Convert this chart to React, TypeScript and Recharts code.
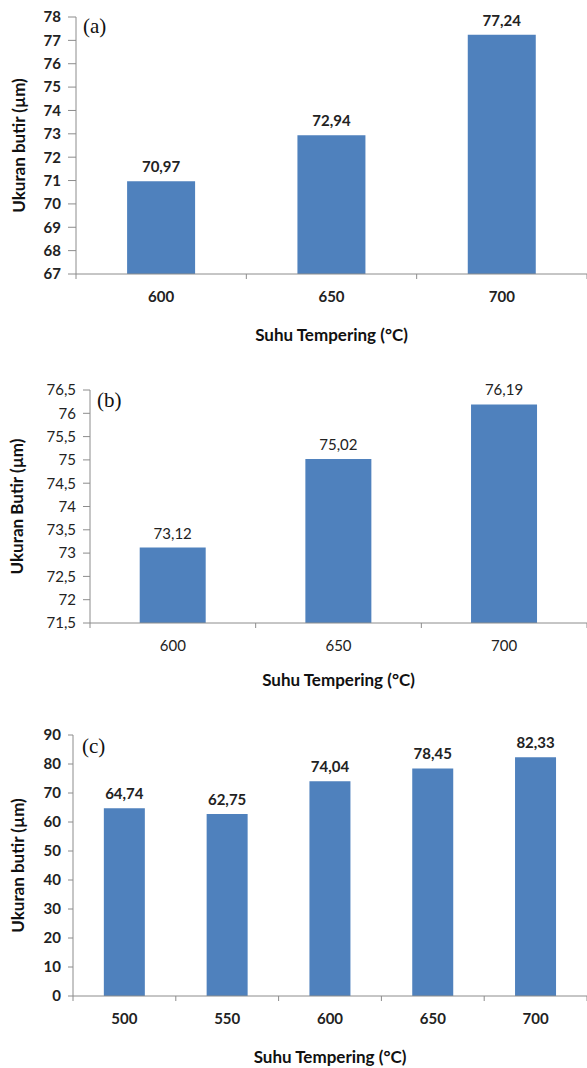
import React from 'react';
import { BarChart, Bar, XAxis, YAxis, LabelList } from 'recharts';

// (a)
const suhuA = ['600', '650', '700'];
const butirA = [70.97, 72.94, 77.24];
const ticksA = [67, 68, 69, 70, 71, 72, 73, 74, 75, 76, 77, 78];

// (b)
const suhuB = ['600', '650', '700'];
const butirB = [73.12, 75.02, 76.19];
const ticksB = [71.5, 72, 72.5, 73, 73.5, 74, 74.5, 75, 75.5, 76, 76.5];

// (c)
const suhuC = ['500', '550', '600', '650', '700'];
const butirC = [64.74, 62.75, 74.04, 78.45, 82.33];
const ticksC = [0, 10, 20, 30, 40, 50, 60, 70, 80, 90];

const BLUE = '#4f81bd';
const GREY = '#8c8c8c';
const FONT = 'Lato, "Open Sans", sans-serif';

const koma = (v: number) => String(v).replace('.', ',');
const koma2 = (v: any) => Number(v).toFixed(2).replace('.', ',');

// category tick: label at the band centre, short tick marks on the band edges (Excel style)
const makeCatTick = (count: number, weight: number) => (props: any) => {
  const { x, y, payload } = props;
  const half = payload.offset || 0;
  const last = payload.index === count - 1;
  return (
    <g>
      <line x1={x - half} x2={x - half} y1={y} y2={y + 5} stroke={GREY} />
      {last && <line x1={x + half} x2={x + half} y1={y} y2={y + 5} stroke={GREY} />}
      <text
        x={x}
        y={y + 17}
        dy="0.71em"
        textAnchor="middle"
        fill="#222"
        fontSize={15}
        fontFamily={FONT}
        fontWeight={weight}
      >
        {payload.value}
      </text>
    </g>
  );
};

type PanelProps = {
  tag: string;
  cats: string[];
  vals: number[];
  ticks: number[];
  yTitle: string;
  top: number;
  height: number;
  marginTop: number;
  yWidth: number;
  yTick: number;
  yTitleOffset: number;
  xHeight: number;
  bold: boolean;
  tagPos: { left: number; top: number };
};

const Panel = ({
  tag, cats, vals, ticks, yTitle, top, height, marginTop, yWidth, yTick, yTitleOffset, xHeight, bold, tagPos,
}: PanelProps) => {
  const data = cats.map((c, i) => ({ suhu: c, ukuran: vals[i] }));
  const weight = bold ? 700 : 400;
  return (
    <div style={{ position: 'absolute', left: 0, top, width: 587, height }}>
      <BarChart
        width={587}
        height={height}
        data={data}
        margin={{ top: marginTop, right: 0, bottom: 0, left: 0 }}
        barCategoryGap="30%"
      >
        <XAxis
          dataKey="suhu"
          height={xHeight}
          axisLine={{ stroke: GREY }}
          tickLine={false}
          tickSize={0}
          tickMargin={0}
          interval={0}
          tick={makeCatTick(cats.length, weight)}
          label={{
            value: 'Suhu Tempering (°C)',
            position: 'insideBottom',
            offset: 5,
            style: { fill: '#111', fontSize: 17, fontFamily: FONT, fontWeight: 700 },
          }}
        />
        <YAxis
          width={yWidth}
          domain={[ticks[0], ticks[ticks.length - 1]]}
          ticks={ticks}
          interval={0}
          tickFormatter={koma}
          axisLine={{ stroke: GREY }}
          tickLine={{ stroke: GREY }}
          tickSize={yTick}
          tickMargin={7}
          tick={{ fill: '#222', fontSize: 15, fontFamily: FONT, fontWeight: weight }}
          label={{
            value: yTitle,
            angle: -90,
            position: 'insideLeft',
            offset: yTitleOffset,
            style: { textAnchor: 'middle', fill: '#111', fontSize: 17, fontFamily: FONT, fontWeight: 700 },
          }}
        />
        <Bar dataKey="ukuran" fill={BLUE} isAnimationActive={false}>
          <LabelList
            dataKey="ukuran"
            position="top"
            offset={9}
            formatter={koma2}
            style={{ fill: '#222', fontSize: 15, fontFamily: FONT, fontWeight: weight }}
          />
        </Bar>
      </BarChart>
      <span
        style={{
          position: 'absolute',
          left: tagPos.left,
          top: tagPos.top,
          fontFamily: '"Liberation Serif", "Times New Roman", serif',
          fontSize: 21,
          lineHeight: '22px',
          color: '#111',
        }}
      >
        {tag}
      </span>
    </div>
  );
};

export default function App() {
  return (
    <div style={{ position: 'absolute', left: 0, top: 0, width: 587, height: 1068, background: '#fff' }}>
      <Panel
        tag="(a)"
        cats={suhuA}
        vals={butirA}
        ticks={ticksA}
        yTitle="Ukuran butir (µm)"
        top={0}
        height={346}
        marginTop={17}
        yWidth={76}
        yTick={8}
        yTitleOffset={19}
        xHeight={72}
        bold
        tagPos={{ left: 83, top: 15 }}
      />
      <Panel
        tag="(b)"
        cats={suhuB}
        vals={butirB}
        ticks={ticksB}
        yTitle="Ukuran Butir (µm)"
        top={346}
        height={345}
        marginTop={44}
        yWidth={90}
        yTick={7}
        yTitleOffset={17}
        xHeight={68}
        bold={false}
        tagPos={{ left: 97, top: 43 }}
      />
      <Panel
        tag="(c)"
        cats={suhuC}
        vals={butirC}
        ticks={ticksC}
        yTitle="Ukuran butir (µm)"
        top={691}
        height={377}
        marginTop={44}
        yWidth={73}
        yTick={5}
        yTitleOffset={18}
        xHeight={72}
        bold
        tagPos={{ left: 82, top: 44 }}
      />
    </div>
  );
}
